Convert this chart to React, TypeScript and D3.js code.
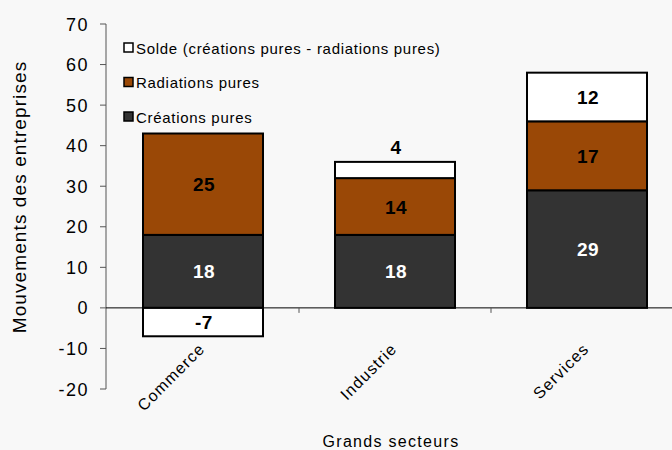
import React, { useEffect, useRef } from 'react';
import * as d3 from 'd3';

const categories = ['Commerce', 'Industrie', 'Services'];
const creations = [18, 18, 29];
const radiations = [25, 14, 17];
const solde = [-7, 4, 12];
const yTicks = [-20, -10, 0, 10, 20, 30, 40, 50, 60, 70];
const legendLabels = ['Solde (créations pures - radiations pures)', 'Radiations pures', 'Créations pures'];

const COLORS = { solde: '#ffffff', radiations: '#9a4806', creations: '#333333' };

function App() {
  const svgRef = useRef<SVGSVGElement>(null);
  const width = 672;
  const height = 450;

  useEffect(() => {
    const svg = d3.select(svgRef.current);
    svg.selectAll('*').remove();

    const font = 'Arial, "Liberation Sans", sans-serif';

    svg.append('rect').attr('width', width).attr('height', height).attr('fill', '#f8f8f8');

    const x = d3.scaleBand().domain(categories).range([107, 683]).padding(0);
    const y = d3.scaleLinear().domain([-20, 70]).range([389, 24]);
    const barW = x.bandwidth() * 0.625;

    // segments
    type Seg = { cat: string; y0: number; y1: number; val: number; fill: string; textFill: string };
    const segs: Seg[] = [];
    categories.forEach((c, i) => {
      segs.push({ cat: c, y0: 0, y1: creations[i], val: creations[i], fill: COLORS.creations, textFill: '#ffffff' });
      const top = creations[i] + radiations[i];
      segs.push({ cat: c, y0: creations[i], y1: top, val: radiations[i], fill: COLORS.radiations, textFill: '#000' });
      if (solde[i] >= 0) {
        segs.push({ cat: c, y0: top, y1: top + solde[i], val: solde[i], fill: COLORS.solde, textFill: '#000' });
      } else {
        segs.push({ cat: c, y0: solde[i], y1: 0, val: solde[i], fill: COLORS.solde, textFill: '#000' });
      }
    });

    // y axis
    svg.append('line')
      .attr('x1', 106).attr('x2', 106).attr('y1', y(70)).attr('y2', y(-20))
      .attr('stroke', '#555').attr('stroke-width', 1);
    svg.selectAll('.ytick').data(yTicks).enter().append('line')
      .attr('x1', 100).attr('x2', 106)
      .attr('y1', d => y(d)).attr('y2', d => y(d))
      .attr('stroke', '#555');
    svg.selectAll('.ylab').data(yTicks).enter().append('text')
      .attr('x', 89).attr('y', d => y(d) + 6.5)
      .attr('text-anchor', 'end')
      .style('font-family', font).style('font-size', '18px').style('letter-spacing', '1.5px')
      .attr('fill', '#000')
      .text(d => d);

    // bars
    svg.selectAll('.seg').data(segs).enter().append('rect')
      .attr('x', d => x(d.cat)! + (x.bandwidth() - barW) / 2)
      .attr('y', d => y(d.y1))
      .attr('width', barW)
      .attr('height', d => y(d.y0) - y(d.y1))
      .attr('fill', d => d.fill)
      .attr('stroke', '#000').attr('stroke-width', 2);

    // zero line
    svg.append('line')
      .attr('x1', 106).attr('x2', width).attr('y1', y(0)).attr('y2', y(0))
      .attr('stroke', '#000').attr('stroke-width', 1);
    categories.slice(1).forEach(c => {
      svg.append('line')
        .attr('x1', x(c)!).attr('x2', x(c)!).attr('y1', y(0)).attr('y2', y(0) + 5)
        .attr('stroke', '#555');
    });

    // value labels
    svg.selectAll('.val').data(segs).enter().append('text')
      .attr('x', d => x(d.cat)! + x.bandwidth() / 2 + 1)
      .attr('y', d => {
        const h = y(d.y0) - y(d.y1);
        if (h < 20) return y(d.y1) - 8;
        return (y(d.y0) + y(d.y1)) / 2 + 7;
      })
      .attr('text-anchor', 'middle')
      .style('font-family', font).style('font-size', '19px').style('font-weight', 'bold')
      .style('letter-spacing', '0.5px')
      .attr('fill', d => (y(d.y0) - y(d.y1) < 20 ? '#000' : d.textFill))
      .text(d => d.val);

    // category labels
    svg.selectAll('.cat').data(categories).enter().append('text')
      .attr('transform', d => `translate(${x(d)! + x.bandwidth() / 2 + 3}, ${y(0) + 42}) rotate(-45)`)
      .attr('text-anchor', 'end')
      .style('font-family', font).style('font-size', '16px').style('letter-spacing', '1.2px')
      .attr('fill', '#000')
      .text(d => d);

    // legend
    const legendFills = [COLORS.solde, COLORS.radiations, COLORS.creations];
    legendLabels.forEach((l, i) => {
      const ly = 48 + i * 34.5;
      svg.append('rect')
        .attr('x', 124).attr('y', ly - 5).attr('width', 9).attr('height', 9)
        .attr('fill', legendFills[i]).attr('stroke', '#000').attr('stroke-width', 1.5);
      svg.append('text')
        .attr('x', 136).attr('y', ly + 5.5)
        .style('font-family', font).style('font-size', '15px').style('letter-spacing', '0.7px')
        .attr('fill', '#000')
        .text(l);
    });

    // axis titles
    svg.append('text')
      .attr('transform', `translate(26, ${197}) rotate(-90)`)
      .attr('text-anchor', 'middle')
      .style('font-family', font).style('font-size', '19px').style('letter-spacing', '1.1px')
      .text('Mouvements des entreprises');

    svg.append('text')
      .attr('x', 391).attr('y', 447)
      .attr('text-anchor', 'middle')
      .style('font-family', font).style('font-size', '16px').style('letter-spacing', '1.3px')
      .text('Grands secteurs');
  }, []);

  return (
    <svg ref={svgRef} width={width} height={height}
      style={{ position: 'absolute', left: 0, top: 0, display: 'block' }} />
  );
}

export default App;
